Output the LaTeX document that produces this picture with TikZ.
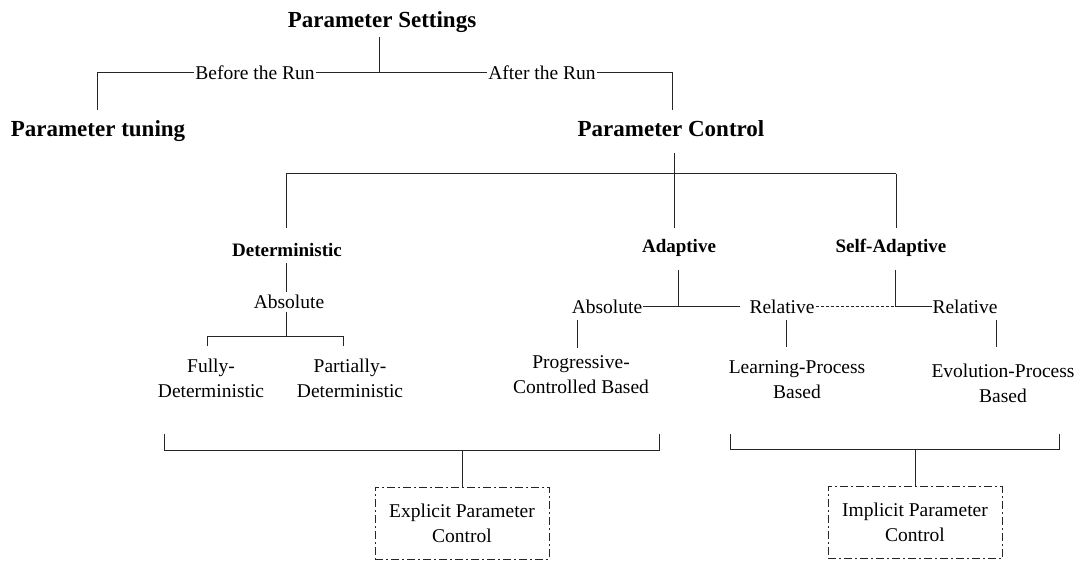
\documentclass[tikz,border=0pt]{standalone}
\usepackage{fontspec}
\setmainfont{Liberation Serif}
\begin{document}
\begin{tikzpicture}[x=1pt,y=-1pt,
  txt/.style={font=\fontsize{19.5}{25}\selectfont, inner sep=1pt, align=center},
  btxt/.style={font=\fontsize{19}{23}\selectfont\bfseries, inner sep=1pt},
  big/.style={font=\fontsize{23}{27}\selectfont\bfseries, inner sep=1pt},
  ln/.style={draw=black!85, line width=1pt},
  dashln/.style={ln, dash pattern=on 3pt off 2pt},
  dbox/.style={txt, draw=black!85, line width=1pt, dash pattern=on 8pt off 3pt on 2pt off 3pt,
    minimum width=174pt, minimum height=72pt}]
\useasboundingbox (0,0) rectangle (1079,561);
\fill[white] (0,0) rectangle (1079,561);
% titles
\node[big] (set) at (382,22) {Parameter Settings};
\node[big] (tun) at (98,131) {Parameter tuning};
\node[big] (ctl) at (671,129) {Parameter Control};
\node[txt] (bef) at (255,73) {Before the Run};
\node[txt] (aft) at (542,73) {After the Run};
% second level
\node[btxt] (det) at (287,250) {Deterministic};
\node[btxt] (ada) at (679,248) {Adaptive};
\node[btxt] (sad) at (891,248) {Self-Adaptive};
% third level
\node[txt] (dabs) at (289,302) {Absolute};
\node[txt] (full) at (211,378) {Fully-\\Deterministic};
\node[txt] (part) at (350,378) {Partially-\\Deterministic};
\node[txt] (aabs) at (607,307) {Absolute};
\node[txt] (rel1) at (782,307) {Relative};
\node[txt] (rel2) at (965,307) {Relative};
\node[txt] (prog) at (581,375) {Progressive-\\Controlled Based};
\node[txt] (lear) at (797,380) {Learning-Process\\Based};
\node[txt] (evol) at (1003,383) {Evolution-Process\\Based};
% boxes
\node[dbox] (expl) at (462,523) {Explicit Parameter\\Control};
\node[dbox] (impl) at (915,522.5) {Implicit Parameter\\Control};

% coordinates
\coordinate (s0) at (379,37);
\coordinate (s1) at (379,73);
\coordinate (tl0) at (97,73);
\coordinate (tl1) at (97,110);
\coordinate (tr0) at (672,73);
\coordinate (tr1) at (672,110);
\coordinate (c0) at (674,153);
\coordinate (c1) at (674,174);
\coordinate (hL) at (286,174);
\coordinate (hR) at (896,174);
\coordinate (dL) at (286,228);
\coordinate (dM) at (674,228);
\coordinate (dR) at (896,228);
\coordinate (d0) at (286,263);
\coordinate (d1) at (286,292);
\coordinate (e0) at (286,312);
\coordinate (e1) at (286,337);
\coordinate (fL) at (207,337);
\coordinate (fL1) at (207,346);
\coordinate (fR) at (343,337);
\coordinate (fR1) at (343,346);
\coordinate (a0) at (678,270);
\coordinate (a1) at (678,307);
\coordinate (r1e) at (740,307);
\coordinate (s2) at (895,270);
\coordinate (s3) at (895,307);
\coordinate (r2w) at (932,307);
\coordinate (p0) at (577,320);
\coordinate (p1) at (577,348);
\coordinate (l0) at (786,320);
\coordinate (l1) at (786,347);
\coordinate (v0) at (996,320);
\coordinate (v1) at (996,347);
\coordinate (bL0) at (164,434);
\coordinate (bL1) at (164,450);
\coordinate (bL2) at (659,450);
\coordinate (bL3) at (659,434);
\coordinate (bLm) at (462,450);
\coordinate (bR0) at (730,434);
\coordinate (bR1) at (730,449);
\coordinate (bR2) at (1059,449);
\coordinate (bR3) at (1059,434);
\coordinate (bRm) at (915,449);

% top connectors
\draw[ln] (s0) -- (s1);
\draw[ln] (tl1) -- (tl0) -- (bef.west);
\draw[ln] (bef.east) -- (aft.west);
\draw[ln] (aft.east) -- (tr0) -- (tr1);
\draw[ln] (c0) -- (c1);
\draw[ln] (hL) -- (hR);
\draw[ln] (hL) -- (dL);
\draw[ln] (c1) -- (dM);
\draw[ln] (hR) -- (dR);
% deterministic
\draw[ln] (d0) -- (d1);
\draw[ln] (e0) -- (e1);
\draw[ln] (fL1) -- (fL) -- (fR) -- (fR1);
% adaptive
\draw[ln] (a0) -- (a1);
\draw[ln] (aabs.east) -- (r1e);
\draw[dashln] (rel1.east) -- (s3);
\draw[ln] (s2) -- (s3) -- (r2w);
\draw[ln] (p0) -- (p1);
\draw[ln] (l0) -- (l1);
\draw[ln] (v0) -- (v1);
% brackets
\draw[ln] (bL0) -- (bL1) -- (bL2) -- (bL3);
\draw[ln] (bLm) -- (expl.north);
\draw[ln] (bR0) -- (bR1) -- (bR2) -- (bR3);
\draw[ln] (bRm) -- (impl.north);
\end{tikzpicture}
\end{document}
